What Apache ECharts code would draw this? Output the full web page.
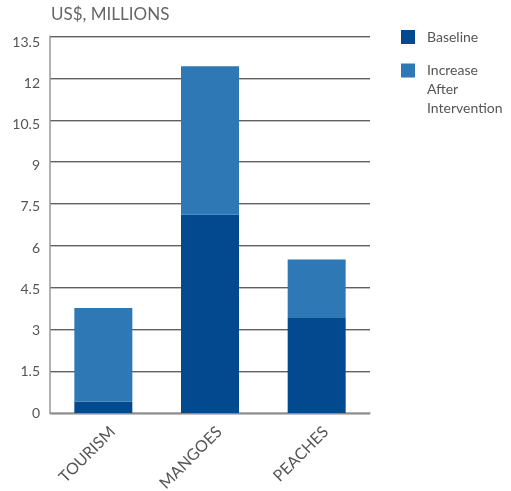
<!DOCTYPE html>
<html><head><meta charset="utf-8">
<script src="https://cdn.jsdelivr.net/npm/echarts@6/dist/echarts.min.js"></script>
<style>html,body{margin:0;padding:0;background:#fff}#c{width:511px;height:491px}</style>
</head><body><div id="c"></div>
<script>
var categories = ['TOURISM', 'MANGOES', 'PEACHES'];
var baseline = [0.4, 7.1, 3.4];
var increase = [3.36, 5.32, 2.1];
var yTicks = [0, 1.5, 3, 4.5, 6, 7.5, 9, 10.5, 12, 13.5];
var seriesNames = ['Baseline', 'Increase After Intervention'];
var unitLabel = 'US$, MILLIONS';

var FONT = 'Lato';
var yMax = yTicks[yTicks.length - 1];
var chart = echarts.init(document.getElementById('c'), null, {renderer: 'canvas'});
chart.setOption({
  animation: false,
  textStyle: {fontFamily: FONT},
  grid: [{left: 50, right: 141, top: 36, bottom: 78, outerBoundsMode: 'none', containLabel: false},
         {left: 50, right: 141, top: 42, bottom: 78, outerBoundsMode: 'none', containLabel: false}],
  title: {text: unitLabel, left: 51, top: 6, padding: 0,
    textStyle: {fontFamily: FONT, fontSize: 17, fontWeight: 'normal', color: '#666'}},
  legend: {
    data: seriesNames, orient: 'vertical', left: 401, top: 23, padding: 0,
    icon: 'rect', itemWidth: 14, itemHeight: 14, itemGap: -23.5,
    formatter: function (n) {
      var parts = n.split(' ');
      if (parts.length === 1) return '{t|' + n + '}';
      var pre = [];
      for (var i = 1; i < parts.length; i++) pre.push('{e| }');
      return pre.concat(parts.map(function (p) { return '{t|' + p + '}'; })).join('\n');
    },
    textStyle: {fontFamily: FONT, fontSize: 14, color: '#555', lineHeight: 19,
      rich: {t: {fontFamily: FONT, fontSize: 14, color: '#555', lineHeight: 19, padding: [0, 0, 0, 7]},
             e: {fontSize: 14, lineHeight: 19}}}
  },
  xAxis: [{
    type: 'category', data: categories, gridIndex: 0,
    axisLine: {lineStyle: {color: '#999', width: 1.5}},
    axisTick: {length: 17, lineStyle: {color: '#999', width: 1.5}},
    axisLabel: {rotate: 45, margin: 7, color: '#555', fontFamily: FONT,
      formatter: function (v) { return '{e| }\n{t|' + v + '}'; },
      rich: {e: {fontSize: 16, lineHeight: 26}, t: {fontSize: 16, lineHeight: 20, color: '#555', fontFamily: FONT}}}
  }, {
    type: 'category', data: categories, gridIndex: 1, show: false
  }],
  yAxis: [{
    type: 'value', gridIndex: 0, min: 0, max: yMax, interval: 1.5,
    axisLine: {show: true, lineStyle: {color: '#999', width: 1.5}},
    axisTick: {show: false},
    axisLabel: {show: false},
    splitLine: {lineStyle: {color: '#606060', width: 1, shadowColor: '#c0c0c0', shadowOffsetY: 1, shadowBlur: 0}}
  }, {
    type: 'value', gridIndex: 1, min: 0, max: yMax, interval: 1.5,
    axisLine: {show: false}, axisTick: {show: false}, splitLine: {show: false},
    axisLabel: {fontSize: 14, color: '#555', margin: 10, fontFamily: FONT,
      formatter: function (v) { return String(v); }}
  }],
  series: [{
    name: seriesNames[0], type: 'bar', stack: 's', data: baseline, barWidth: 58,
    itemStyle: {color: '#02498f'}
  }, {
    name: seriesNames[1], type: 'bar', stack: 's', data: increase, barWidth: 58,
    itemStyle: {color: '#2e79b5'}
  }]
});
</script></body></html>
